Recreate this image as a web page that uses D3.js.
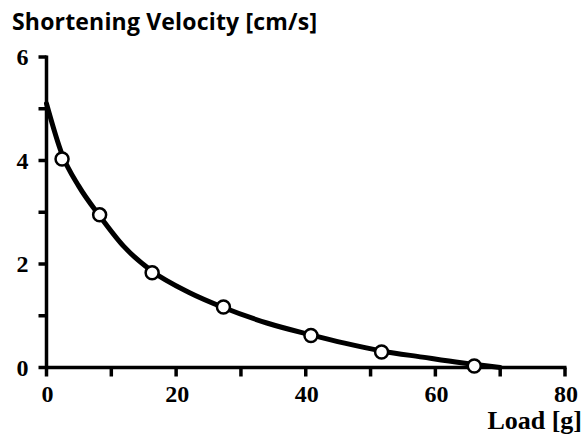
<!DOCTYPE html>
<html>
<head>
<meta charset="utf-8">
<script src="https://cdn.jsdelivr.net/npm/d3@7"></script>
<style>
  html, body { margin: 0; padding: 0; background: #fff; }
  svg { display: block; }
</style>
</head>
<body>
<svg id="chart" width="584" height="438"></svg>
<script>
// Measured load (g) and shortening velocity (cm/s)
const loads      = [2.4, 8.2, 16.3, 27.3, 40.8, 51.7, 66.0];
const velocities = [4.03, 2.95, 1.83, 1.17, 0.62, 0.30, 0.03];

// Smooth force–velocity curve drawn through the measurements
const curveLoads      = [0, 2.4, 5, 8.2, 12, 16.3, 22, 27.3, 34, 40.8, 46, 51.7, 58, 64, 70];
const curveVelocities = [5.1, 4.12, 3.5, 2.93, 2.33, 1.86, 1.45, 1.16, 0.86, 0.63, 0.47, 0.32, 0.2, 0.09, 0.0];

const xTickValues = [0, 20, 40, 60, 80];
const xMinorTicks = [0, 10, 20, 30, 40, 50, 60, 70, 80];
const yTickValues = [0, 2, 4, 6];
const yMinorTicks = [0, 1, 2, 3, 4, 5, 6];

const svg = d3.select("#chart");

const x = d3.scaleLinear().domain([0, 80]).range([46.5, 565]);
const y = d3.scaleLinear().domain([0, 6]).range([367.5, 57]);

const serif = "'Liberation Serif', 'DejaVu Serif', serif";

// Axis lines
svg.append("line")
  .attr("x1", x(0)).attr("x2", x(80) + 1.5).attr("y1", y(0)).attr("y2", y(0))
  .attr("stroke", "#000").attr("stroke-width", 3.5);
svg.append("line")
  .attr("x1", x(0)).attr("x2", x(0)).attr("y1", y(0) + 1.5).attr("y2", y(6) - 1.5)
  .attr("stroke", "#000").attr("stroke-width", 3.5);

// Tick marks
svg.selectAll(".xtick").data(xMinorTicks).enter().append("line")
  .attr("x1", d => x(d)).attr("x2", d => x(d))
  .attr("y1", y(0)).attr("y2", y(0) + 9)
  .attr("stroke", "#000").attr("stroke-width", 3.5);
svg.selectAll(".ytick").data(yMinorTicks).enter().append("line")
  .attr("x1", x(0) - 8).attr("x2", x(0))
  .attr("y1", d => y(d)).attr("y2", d => y(d))
  .attr("stroke", "#000").attr("stroke-width", 3.5);

// Tick labels
svg.selectAll(".xlab").data(xTickValues).enter().append("text")
  .attr("x", d => x(d) + 1).attr("y", y(0) + 34.5)
  .attr("text-anchor", "middle")
  .attr("font-family", serif).attr("font-weight", "bold").attr("font-size", 24)
  .text(d => d);
svg.selectAll(".ylab").data(yTickValues).enter().append("text")
  .attr("x", x(0) - 18).attr("y", d => y(d) + 8)
  .attr("text-anchor", "end")
  .attr("font-family", serif).attr("font-weight", "bold").attr("font-size", 24)
  .text(d => d);

// Axis titles
svg.append("text")
  .attr("x", 12).attr("y", 30)
  .attr("font-family", "'Open Sans', Lato, sans-serif").attr("font-weight", "bold").attr("font-size", 23)
  .attr("textLength", 305).attr("lengthAdjust", "spacing")
  .text("Shortening Velocity [cm/s]");
svg.append("text")
  .attr("x", 582).attr("y", 429)
  .attr("text-anchor", "end")
  .attr("font-family", serif).attr("font-weight", "bold").attr("font-size", 26)
  .text("Load [g]");

// Fitted curve
const curvePts = curveLoads.map((d, i) => [d, curveVelocities[i]]);
svg.append("path")
  .datum(curvePts)
  .attr("d", d3.line().x(d => x(d[0])).y(d => y(d[1])).curve(d3.curveMonotoneX))
  .attr("fill", "none").attr("stroke", "#000").attr("stroke-width", 5)
  .attr("stroke-linecap", "round");

// Data markers
const pts = loads.map((d, i) => [d, velocities[i]]);
svg.selectAll(".pt").data(pts).enter().append("circle")
  .attr("cx", d => x(d[0])).attr("cy", d => y(d[1])).attr("r", 6.5)
  .attr("fill", "#fff").attr("stroke", "#000").attr("stroke-width", 2.5);
</script>
</body>
</html>
